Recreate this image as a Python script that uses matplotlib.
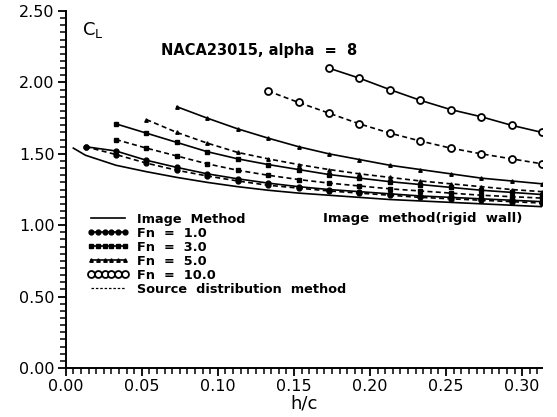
import matplotlib
matplotlib.use("Agg")
import matplotlib.pyplot as plt
from matplotlib.lines import Line2D
from matplotlib.ticker import MultipleLocator, FormatStrFormatter
import numpy as np

# h/c stations used for all the free-surface runs
hc = [0.013, 0.033, 0.053, 0.073, 0.093, 0.113, 0.133, 0.153,
      0.173, 0.193, 0.213, 0.233, 0.253, 0.273, 0.293, 0.313]

# rigid wall, image method
rigid_hc = [0.005] + hc
rigid_cl = [1.54, 1.49, 1.42, 1.375, 1.335, 1.30, 1.27, 1.245, 1.225,
            1.21, 1.195, 1.18, 1.17, 1.16, 1.15, 1.14, 1.13]

# Fn = 1.0 (start at hc[0])
fn1_img = [1.55, 1.52, 1.455, 1.405, 1.36, 1.325, 1.295, 1.27, 1.25,
           1.235, 1.22, 1.205, 1.195, 1.185, 1.175, 1.165]
fn1_src = [1.55, 1.495, 1.435, 1.385, 1.345, 1.31, 1.28, 1.26, 1.24,
           1.225, 1.21, 1.195, 1.185, 1.175, 1.165, 1.155]

# Fn = 3.0 (start at hc[1])
fn3_img = [1.71, 1.645, 1.58, 1.515, 1.465, 1.425, 1.39, 1.355,
           1.33, 1.305, 1.285, 1.265, 1.245, 1.23, 1.215]
fn3_src = [1.60, 1.54, 1.485, 1.43, 1.385, 1.35, 1.32, 1.295,
           1.275, 1.255, 1.24, 1.225, 1.21, 1.20, 1.19]

# Fn = 5.0 (image from hc[3], source from hc[2])
fn5_img = [1.83, 1.75, 1.675, 1.61, 1.55, 1.50, 1.46, 1.42,
           1.39, 1.36, 1.33, 1.31, 1.29]
fn5_src = [1.74, 1.65, 1.575, 1.51, 1.465, 1.425, 1.39, 1.36,
           1.335, 1.31, 1.29, 1.27, 1.25, 1.235]

# Fn = 10.0 (image from hc[8], source from hc[6])
fn10_img = [2.10, 2.03, 1.95, 1.875, 1.81, 1.76, 1.70, 1.65]
fn10_src = [1.94, 1.86, 1.785, 1.71, 1.645, 1.59, 1.54, 1.50,
            1.465, 1.43]

fig = plt.figure(figsize=(5.57, 4.17), dpi=100)
ax = fig.add_axes([0.118, 0.1175, 0.855, 0.856])

lw = 1.2
dash = (0, (3, 2))
m1 = dict(marker='o', ms=3.5, mfc='k', mec='k')
m3 = dict(marker='s', ms=3.5, mfc='k', mec='k')
m5 = dict(marker='^', ms=2.5, mfc='k', mec='k')
m10 = dict(marker='o', ms=5, mfc='white', mec='k', mew=1.3)

ax.plot(rigid_hc, rigid_cl, color='k', lw=lw)

ax.plot(hc, fn1_img, color='k', lw=lw, **m1)
ax.plot(hc, fn1_src, color='k', lw=lw, ls=dash, **m1)
ax.plot(hc[1:], fn3_img, color='k', lw=lw, **m3)
ax.plot(hc[1:], fn3_src, color='k', lw=lw, ls=dash, **m3)
ax.plot(hc[3:], fn5_img, color='k', lw=lw, **m5)
ax.plot(hc[2:], fn5_src, color='k', lw=lw, ls=dash, **m5)
ax.plot(hc[8:], fn10_img, color='k', lw=lw, **m10)
ax.plot(hc[6:], fn10_src, color='k', lw=lw, ls=dash, **m10)

ax.set_xlim(0, 0.313)
ax.set_ylim(0, 2.5)
for s in ['top', 'right']:
    ax.spines[s].set_visible(False)
for s in ['left', 'bottom']:
    ax.spines[s].set_linewidth(1.4)
ax.xaxis.set_major_locator(MultipleLocator(0.05))
ax.xaxis.set_minor_locator(MultipleLocator(0.005))
ax.yaxis.set_major_locator(MultipleLocator(0.5))
ax.yaxis.set_minor_locator(MultipleLocator(0.05))
ax.xaxis.set_major_formatter(FormatStrFormatter('%.2f'))
ax.yaxis.set_major_formatter(FormatStrFormatter('%.2f'))
ax.tick_params(which='major', direction='out', length=6, width=1.3,
               labelsize=11.5, pad=2)
ax.tick_params(which='minor', direction='out', length=4, width=1.1)

ax.set_xlabel('h/c', fontsize=13, labelpad=0)
ax.text(0.035, 0.975, r'C$_\mathregular{L}$', transform=ax.transAxes,
        fontsize=13, va='top', ha='left')
ax.text(0.2, 0.89, 'NACA23015, alpha  =  8', transform=ax.transAxes,
        fontsize=10.5, fontweight='bold', va='center', ha='left')
ax.text(0.958, 0.42, 'Image  method(rigid  wall)', transform=ax.transAxes,
        fontsize=9.5, fontweight='bold', va='center', ha='right')

handles = [
    Line2D([], [], color='k', lw=lw),
    Line2D([], [], color='k', lw=lw, **m1),
    Line2D([], [], color='k', lw=lw, **m3),
    Line2D([], [], color='k', lw=lw, **m5),
    Line2D([], [], color='k', lw=lw, **m10),
    Line2D([], [], color='k', lw=0.9, ls=(0, (2, 1.5))),
]
labels = ['Image  Method', 'Fn  =  1.0', 'Fn  =  3.0', 'Fn  =  5.0',
          'Fn  =  10.0', 'Source  distribution  method']
ax.legend(handles, labels, loc='upper left', bbox_to_anchor=(0.044, 0.435),
          frameon=False, numpoints=6, handlelength=3.3, handletextpad=0.6,
          labelspacing=0.08, borderpad=0, borderaxespad=0,
          prop={'size': 9.3, 'weight': 'bold'})

fig.savefig('out.png', dpi=100)
